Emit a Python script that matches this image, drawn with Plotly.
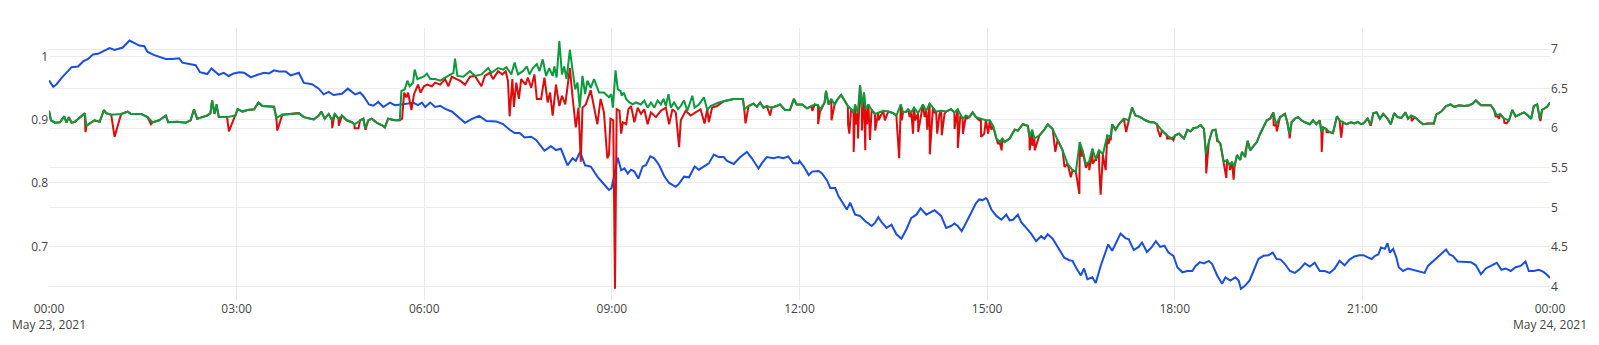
import pandas as pd
import plotly.graph_objects as go

BASE_DATE = "2021-05-23"

# ---- blue series (left axis): minutes after midnight, value ----
blue_t = [0, 4.1, 7.3, 12.1, 18.4, 21.6, 27.9, 32.7, 37.5, 42.2, 47.0, 51.8, 58.1, 62.9, 70.8, 77.2, 81.9, 86.7,
          91.4, 94.6, 101.0, 107.3, 112.0, 118.4, 124.8, 128.0, 134.3, 140.7, 144.8, 151.8, 155.9, 158.8, 162.9,
          167.6, 172.4, 177.2,
          182.5, 187.3, 193.7, 200.0, 206.4, 211.1, 215.9, 220.7, 227.0, 231.8, 239.7, 244.5, 252.4, 258.8, 263.5,
          268.3, 273.0, 281.0, 286.7, 293.7, 298.4, 301.6, 307.0, 311.1, 315.9, 320.7, 327.0, 331.8, 338.1, 344.5,
          349.2, 354.0, 357.8,
          361.0, 365.7, 370.5, 375.3, 380.0, 386.4, 392.7, 399.1, 405.4, 412.7, 419.7, 429.2, 435.6, 441.9, 446.7,
          451.5, 456.2, 462.6, 467.3, 475.3, 481.6, 486.4, 491.1, 497.5, 502.3, 505.4, 509.5, 514.3, 519.7, 526.1,
          532.4, 537.2, 539.7,
          545.7, 548.9, 552.1, 555.3, 558.4, 561.6, 565.4, 569.5, 572.7, 576.8, 580.7, 585.4, 590.2, 594.9, 601.3,
          604.5, 609.2, 614.0, 619.4, 623.5, 629.9, 633.0, 637.8, 642.6, 647.3, 650.5, 656.9, 663.2, 669.6, 674.3,
          680.7, 683.8, 688.6, 695.0, 699.7, 704.5, 709.2, 714.0, 718.8,
          720.0, 724.1, 728.9, 732.1, 738.4, 741.6, 746.4, 749.5, 754.3, 757.5, 762.2, 765.4, 768.6, 773.4, 778.1,
          782.9, 789.2, 792.4, 795.6, 798.8, 803.5, 808.3, 813.0, 817.8, 822.6, 827.3, 832.1, 836.2, 841.6, 846.4,
          849.6, 855.9, 860.7, 865.4, 868.6, 871.8, 875.6, 881.3, 886.1, 889.2, 892.4, 895.6, 898.8,
          900.0, 904.1, 908.9, 913.7, 918.4, 921.6, 924.8, 929.5, 932.7, 937.5, 942.2, 947.0, 951.8, 954.9, 958.1,
          962.9, 966.0, 970.8, 974.0, 978.8, 981.9, 985.1, 989.9, 993.0, 996.2, 1001.0, 1004.2, 1008.9, 1012.1,
          1016.2, 1020.0, 1023.2, 1028.0, 1032.7, 1035.9, 1040.7, 1045.4, 1048.6, 1053.4, 1058.1, 1061.9, 1066.0,
          1070.2, 1074.0, 1078.8,
          1082.5, 1087.3, 1092.1, 1096.8, 1100.0, 1104.1, 1108.0, 1112.7, 1115.9, 1120.7, 1125.4, 1128.6, 1133.4,
          1138.1, 1141.3, 1143.5, 1147.6, 1151.8, 1155.6, 1160.3, 1165.1, 1169.9, 1174.0, 1177.8, 1181.6, 1185.7,
          1190.5, 1195.3, 1200.0, 1204.8, 1209.6, 1214.3, 1219.1, 1223.8, 1228.6, 1233.4, 1238.1, 1242.9, 1247.7,
          1252.4, 1257.2,
          1261.0, 1265.7, 1268.9, 1272.1, 1275.3, 1277.8, 1281.6, 1284.1, 1286.4, 1289.5, 1292.7, 1294.9, 1299.1,
          1303.8, 1308.6, 1313.4, 1319.7, 1322.9, 1327.6, 1332.4, 1336.2, 1340.3, 1343.5, 1346.7, 1351.5, 1357.8,
          1364.2, 1368.9, 1373.7, 1378.4, 1383.2, 1388.9, 1393.4, 1397.5, 1402.3, 1407.0, 1411.8, 1416.5, 1419.7,
          1424.5, 1429.2, 1433.4, 1437.2, 1440.0]
blue_v = [0.962, 0.952, 0.956, 0.966, 0.977, 0.983, 0.984, 0.992, 0.996, 1.003, 1.004, 1.008, 1.013, 1.010, 1.014,
          1.025, 1.021, 1.017, 1.016, 1.007, 1.002, 0.999, 0.996, 0.996, 0.997, 0.990, 0.988, 0.986, 0.975, 0.972,
          0.981, 0.977, 0.971, 0.974, 0.969, 0.973,
          0.975, 0.974, 0.967, 0.971, 0.974, 0.973, 0.978, 0.976, 0.976, 0.970, 0.974, 0.958, 0.956, 0.949, 0.940,
          0.944, 0.939, 0.941, 0.949, 0.940, 0.943, 0.9375, 0.924, 0.922, 0.928, 0.920, 0.927, 0.923, 0.924, 0.9255,
          0.927, 0.923, 0.927,
          0.920, 0.927, 0.920, 0.922, 0.917, 0.913, 0.904, 0.895, 0.901, 0.906, 0.898, 0.897, 0.893, 0.884, 0.879,
          0.879, 0.872, 0.873, 0.868, 0.851, 0.858, 0.852, 0.854, 0.828, 0.839, 0.835, 0.849, 0.828, 0.826, 0.810,
          0.798, 0.789, 0.792,
          0.840, 0.820, 0.823, 0.815, 0.821, 0.818, 0.807, 0.826, 0.828, 0.842, 0.839, 0.828, 0.811, 0.800, 0.794,
          0.799, 0.810, 0.809, 0.826, 0.821, 0.828, 0.831, 0.845, 0.841, 0.841, 0.835, 0.830, 0.841, 0.849, 0.839,
          0.823, 0.831, 0.841, 0.839, 0.841, 0.839, 0.842, 0.831, 0.831,
          0.835, 0.826, 0.8125, 0.818, 0.819, 0.815, 0.804, 0.792, 0.792, 0.779, 0.766, 0.758, 0.769, 0.750, 0.748,
          0.740, 0.732, 0.737, 0.746, 0.738, 0.729, 0.734, 0.719, 0.712, 0.727, 0.745, 0.750, 0.760, 0.750, 0.754,
          0.757, 0.748, 0.729, 0.732, 0.736, 0.732, 0.724, 0.742, 0.758, 0.768, 0.774, 0.773, 0.776,
          0.7745, 0.758, 0.748, 0.742, 0.750, 0.741, 0.742, 0.750, 0.738, 0.729, 0.720, 0.708, 0.716, 0.712, 0.719,
          0.712, 0.703, 0.690, 0.682, 0.678, 0.677, 0.667, 0.654, 0.665, 0.648, 0.651, 0.642, 0.669, 0.685,
          0.703, 0.693, 0.703, 0.720, 0.713, 0.711, 0.694, 0.699, 0.706, 0.691, 0.699, 0.708, 0.699,
          0.701, 0.690, 0.685,
          0.667, 0.659, 0.661, 0.661, 0.669, 0.675, 0.673, 0.677, 0.672, 0.654, 0.641, 0.651, 0.646,
          0.651, 0.646, 0.633, 0.638, 0.646, 0.661, 0.680, 0.685, 0.686, 0.690, 0.680, 0.679, 0.672,
          0.661, 0.658, 0.664, 0.673, 0.668, 0.674, 0.661, 0.661, 0.658, 0.665, 0.677, 0.670, 0.679,
          0.684, 0.686,
          0.686, 0.682, 0.680, 0.685, 0.687, 0.698, 0.696, 0.705, 0.690, 0.696, 0.682, 0.667, 0.661,
          0.665, 0.663, 0.660, 0.658, 0.669, 0.676, 0.684, 0.690, 0.695, 0.687, 0.685, 0.676, 0.676,
          0.675, 0.670, 0.656, 0.665, 0.669, 0.674, 0.663, 0.665, 0.661, 0.667, 0.669, 0.676, 0.661,
          0.661, 0.663, 0.660, 0.655, 0.650]

# ---- green series (right axis) ----
green_t = [0, 1.9, 5.7, 10.5, 14.6, 16.8, 19.1, 21.6, 24.8, 34.3, 35.9, 40.6, 43.8, 48.6, 52.7, 54.9, 59.7, 69.2,
           75.6, 78.7, 88.3, 94.6, 99.4, 105.7, 112.1, 114.3, 123.2, 131.1, 135.9, 139.1, 142.2, 147.0, 151.8,
           154.9, 156.5, 158.8, 160.7, 162.9, 170.8, 178.8, 181.0,
           185.7, 190.5, 196.8, 201.0, 204.8, 215.9, 218.1, 223.8, 231.8, 239.7, 244.5, 254.0, 258.8, 261.3, 264.5,
           268.3, 271.5, 274.0, 277.8, 281.0, 285.7, 290.5, 293.0, 298.4, 301.6, 303.2, 306.4, 309.6, 314.3, 319.1,
           322.2, 325.4, 331.8, 336.5, 338.1, 341.3, 343.8, 346.0, 349.2, 350.8, 353.4, 357.2, 360.4,
           362.5, 365.7, 370.5, 375.3, 380.0, 384.8, 388.0, 389.5, 391.8, 397.5, 403.8, 408.6, 414.9, 421.3, 424.5,
           430.8, 435.6, 438.8, 443.5, 446.7, 449.9, 454.6, 458.4, 461.0, 464.2, 468.0, 470.5, 473.7, 476.9, 480.0,
           483.2, 484.8, 487.0, 489.6, 492.1, 494.3, 496.5, 499.7, 502.3, 504.8, 507.0, 509.2, 511.8, 514.3, 516.5,
           519.7, 522.9, 527.7, 532.4, 537.2, 539.4, 541.0, 543.5,
           545.7, 548.3, 549.5, 551.4, 553.7, 556.8, 560.0, 563.2, 567.9, 571.1, 574.3, 577.5, 580.7, 583.8, 587.0,
           589.5, 591.8, 594.3, 596.5, 599.7, 603.5, 606.1, 609.2, 612.4, 617.2, 619.4, 623.5, 628.3, 631.5, 634.6,
           637.8, 642.6, 647.3, 656.9, 665.7, 667.0, 671.1, 675.9, 679.1, 682.3, 685.4, 688.6, 693.4, 698.1, 701.3,
           706.1, 710.8, 714.6, 717.2,
           722.6, 727.3, 731.4, 734.6, 737.8, 740.0, 744.1, 745.4, 748.0, 750.5, 753.7, 756.8, 760.0, 763.2, 766.4,
           769.5, 771.8, 773.4, 775.9, 778.1, 779.7, 781.9, 783.5, 786.1, 789.2, 792.4, 795.6, 800.3, 805.1, 809.9,
           813.0, 817.2, 819.4, 822.6, 824.2, 827.3, 829.9, 833.7, 838.4, 841.6, 844.8, 848.0, 851.1, 855.9, 860.7,
           865.4, 868.6, 871.8, 876.5, 879.7, 882.9, 886.1, 889.2, 894.0, 898.8,
           902.6, 905.7, 908.9, 912.1, 914.6, 916.8, 921.6, 926.4, 929.5, 934.3, 939.1, 940.6, 943.2, 945.4, 950.2,
           954.9, 958.1, 962.9, 967.6, 972.4, 977.2, 981.9, 985.1, 988.9, 991.5, 994.6, 997.8, 1001.0, 1004.2,
           1007.3, 1011.1, 1015.3, 1018.4, 1020.0, 1023.2, 1026.4, 1031.1, 1035.9, 1039.1, 1042.2, 1047.0, 1051.8,
           1056.5, 1059.7, 1062.9, 1067.7, 1072.4, 1077.2, 1080.4,
           1084.1, 1088.9, 1092.1, 1095.3, 1097.8, 1101.6, 1104.8, 1108.0, 1109.9, 1112.7, 1115.9, 1119.1, 1121.3,
           1123.8, 1127.0, 1130.2, 1132.7, 1134.9, 1137.2, 1139.7, 1142.9, 1144.5, 1147.6, 1149.9, 1152.4, 1156.2,
           1158.8, 1161.9, 1165.1, 1168.3, 1171.5, 1174.6, 1177.2, 1181.0, 1185.7, 1188.0, 1189.9, 1192.1, 1195.3,
           1198.4, 1201.6, 1204.8, 1209.6, 1212.7, 1215.9, 1219.1, 1220.7, 1222.2, 1225.4, 1228.6, 1231.8, 1235.6,
           1238.1, 1241.3, 1244.5, 1249.2, 1252.4, 1255.6, 1258.8,
           1261.0, 1265.1, 1268.3, 1270.5, 1273.7, 1276.8, 1280.0, 1284.1, 1287.3, 1290.5, 1293.7, 1297.5, 1301.3,
           1303.8, 1307.0, 1310.2, 1313.4, 1318.1, 1322.9, 1328.6, 1330.8, 1335.6, 1340.3, 1344.5, 1348.3, 1353.0,
           1357.8, 1362.6, 1365.7, 1368.9, 1373.7, 1378.4, 1383.2, 1386.4, 1388.9, 1392.1, 1395.9, 1400.7, 1403.8,
           1407.0, 1410.2, 1415.0, 1418.1, 1421.9, 1424.5, 1427.7, 1430.2, 1432.4, 1437.2, 1440.0]
green_v = [6.22, 6.10, 6.07, 6.075, 6.15, 6.07, 6.14, 6.07, 6.08, 6.19, 6.03, 6.075, 6.10, 6.08, 6.23, 6.19, 6.17, 6.18,
           6.21, 6.18, 6.18, 6.14, 6.075, 6.10, 6.16, 6.075, 6.08, 6.07, 6.10, 6.24, 6.12, 6.14, 6.16,
           6.19, 6.35, 6.18, 6.30, 6.14, 6.14, 6.16, 6.24,
           6.21, 6.23, 6.24, 6.325, 6.28, 6.27, 6.13, 6.17, 6.18, 6.19, 6.14, 6.11, 6.16, 6.21, 6.12,
           6.18, 6.10, 6.18, 6.12, 6.16, 6.10, 6.075, 6.05, 6.10, 6.12, 6.00, 6.10, 6.12, 6.07, 6.04,
           6.01, 6.12, 6.10, 6.10, 6.47, 6.49, 6.60, 6.53, 6.575, 6.74, 6.62, 6.64, 6.66,
           6.69, 6.62, 6.62, 6.60, 6.64, 6.68, 6.70, 6.88, 6.66, 6.65, 6.72, 6.66, 6.68, 6.76, 6.70,
           6.76, 6.74, 6.77, 6.68, 6.83, 6.68, 6.72, 6.78, 6.68, 6.76, 6.81, 6.72, 6.87, 6.66, 6.76,
           6.66, 6.78, 6.64, 7.10, 6.68, 6.78, 6.62, 6.99, 6.72, 6.49, 6.575, 6.26, 6.66, 6.43, 6.60,
           6.51, 6.62, 6.45, 6.45, 6.39, 6.43, 6.26, 6.73,
           6.49, 6.47, 6.41, 6.45, 6.37, 6.325, 6.30, 6.325, 6.30, 6.35, 6.26, 6.325, 6.26, 6.35, 6.30,
           6.37, 6.28, 6.43, 6.26, 6.325, 6.24, 6.28, 6.35, 6.22, 6.41, 6.26, 6.30, 6.39, 6.23, 6.28,
           6.30, 6.325, 6.34, 6.37, 6.37, 6.24, 6.28, 6.31, 6.27, 6.325, 6.26, 6.28, 6.26, 6.28, 6.30,
           6.23, 6.23, 6.37, 6.30,
           6.30, 6.25, 6.28, 6.30, 6.29, 6.24, 6.325, 6.47, 6.30, 6.37, 6.30, 6.37, 6.42, 6.35, 6.28,
           6.24, 6.20, 6.30, 6.19, 6.54, 6.26, 6.45, 6.24, 6.30, 6.23, 6.18, 6.20, 6.22, 6.21, 6.19,
           6.16, 6.30, 6.20, 6.21, 6.24, 6.20, 6.26, 6.19, 6.30, 6.22, 6.31, 6.26, 6.21, 6.22, 6.21,
           6.24, 6.20, 6.24, 6.12, 6.16, 6.14, 6.20, 6.14, 6.12, 6.10,
           6.10, 6.03, 5.87, 5.825, 5.87, 5.825, 5.87, 5.98, 5.97, 6.05, 6.03, 5.89, 5.98, 5.87, 5.91,
           5.98, 6.05, 5.99, 5.85, 5.72, 5.55, 5.47, 5.45, 5.825, 5.72, 5.55, 5.575, 5.74, 5.61,
           5.72, 5.67, 5.91, 5.89, 6.05, 5.98, 6.05, 6.12, 6.10, 6.26, 6.16, 6.14, 6.10,
           6.075, 6.075, 6.05, 5.97, 5.91, 5.87, 5.91,
           5.93, 5.87, 5.98, 5.96, 6.00, 6.01, 6.04, 5.99, 5.68, 5.825, 5.97, 5.98, 5.845,
           5.80, 5.575, 5.60, 5.53, 5.575, 5.51, 5.66, 5.60, 5.70, 5.635, 5.84, 5.72, 5.79,
           5.825, 5.93, 6.01, 6.10, 6.12, 6.20, 6.05, 6.14, 6.18, 6.075, 5.93, 6.075, 6.12,
           6.14, 6.10, 6.075, 6.05, 6.10, 6.05, 6.10, 5.95, 6.01, 5.99, 5.95, 5.94, 6.15,
           6.10, 6.075, 6.05, 6.075, 6.06, 6.08, 6.05,
           6.06, 6.12, 6.05, 6.19, 6.20, 6.12, 6.18, 6.12, 6.05, 6.19, 6.14, 6.13, 6.20,
           6.12, 6.16, 6.14, 6.10, 6.05, 6.06, 6.06, 6.17, 6.21, 6.28, 6.30, 6.27, 6.29,
           6.28, 6.29, 6.31, 6.35, 6.29, 6.29, 6.29, 6.23, 6.16, 6.18, 6.12, 6.10, 6.23,
           6.15, 6.17, 6.20, 6.17, 6.12, 6.28, 6.30, 6.12, 6.23, 6.27, 6.325]

# ---- red series (right axis): where red departs from green ----
# between red_own_start and red_own_end the red line is read on its own;
# elsewhere it runs under the green line except for the dips listed.
red_own_start, red_own_end = 337.0, 646.0
red_t = [35.0, 62.9, 97.8, 172.6, 219.0, 271.7, 278.0, 293.2, 297.0, 303.6,
         338.8, 340.7, 342.9, 344.5, 347.7, 350.2, 354.0, 356.5, 359.7, 362.9,
         367.3, 370.5, 375.3, 380.0, 383.2, 386.4, 391.1, 394.3, 399.1, 403.8, 408.6, 414.9, 418.1, 422.9,
         426.0, 430.8, 434.9, 438.1, 440.3, 441.9, 444.5, 446.0, 448.3, 450.8, 453.0, 457.2, 459.4, 462.6,
         465.7, 468.0, 472.1, 475.3, 478.4, 480.7, 483.2, 486.4, 489.6, 492.1, 495.3, 497.5, 499.7, 502.3,
         505.4, 508.0, 510.2, 511.8, 515.0, 519.7, 522.9, 526.1, 529.2, 532.4, 535.6, 537.2, 538.6, 541.3,
         543.0, 544.6, 547.3, 548.9, 550.5, 553.7, 555.9, 558.4, 561.6, 564.8, 567.9, 571.1, 574.3, 577.5,
         582.2, 587.0, 591.8, 594.9, 598.1, 601.3, 604.5, 606.1, 610.8, 615.6, 620.3, 625.1, 628.9, 631.5,
         633.0, 636.2, 641.0, 645.7,
         668.2, 691.8,
         732.3, 737.9, 740.2, 750.7, 766.6, 767.8, 772.0, 774.2, 776.1, 779.9, 783.1, 784.7, 787.6, 792.6,
         795.8, 801.9, 813.2, 815.6, 818.0, 825.7, 828.9, 831.1, 833.9, 840.0, 842.6, 845.0, 847.2, 849.8,
         852.1, 854.3, 856.5, 859.1, 868.8, 871.9, 874.3, 876.8, 879.9, 892.6, 894.2,
         897.2, 901.0, 904.1, 910.5, 913.9, 940.8, 943.4, 945.6, 965.4, 974.2, 980.3, 988.5, 990.8, 994.8,
         998.0, 1001.2, 1004.4, 1007.5, 1008.9, 1011.3, 1013.7, 1016.4, 1018.6, 1033.4, 1063.8, 1066.1,
         1072.6, 1078.7,
         1110.2, 1120.9, 1129.5, 1133.0, 1136.5, 1147.9, 1174.9, 1177.9, 1190.2, 1221.0, 1225.7, 1239.7,
         1268.0, 1307.3, 1388.0, 1391.1, 1396.2, 1398.4, 1421.3, 1430.8]
red_v = [5.95, 5.89, 6.05, 5.96, 5.97, 6.00, 6.03, 6.00, 6.00, 5.98,
         6.12, 6.45, 6.39, 6.45, 6.23, 6.43, 6.55, 6.45, 6.53, 6.55,
         6.53, 6.575, 6.55, 6.62, 6.53, 6.65, 6.62, 6.60, 6.55, 6.65, 6.66, 6.53, 6.66, 6.70,
         6.62, 6.72, 6.68, 6.72, 6.60, 6.15, 6.62, 6.27, 6.575, 6.37, 6.62, 6.55, 6.64, 6.51,
         6.68, 6.37, 6.37, 6.64, 6.325, 6.45, 6.16, 6.55, 6.28, 6.41, 6.30, 6.51, 6.76, 6.39,
         6.01, 6.26, 5.575, 6.26, 6.30, 6.48, 6.26, 6.05, 6.37, 6.20, 5.62, 5.66, 6.12, 6.10,
         3.97, 6.24, 6.22, 5.93, 6.075, 6.05, 6.24, 6.28, 6.075, 6.26, 6.18, 6.24, 6.05, 6.20,
         6.14, 6.22, 6.26, 6.05, 6.24, 6.20, 5.76, 6.10, 6.22, 6.16, 6.20, 6.24, 6.06, 6.24,
         6.075, 6.26, 6.28, 6.325,
         6.06, 6.16,
         6.22, 6.05, 6.22, 6.10, 6.05, 5.93, 5.70, 6.05, 5.87, 5.97, 5.72, 6.05, 5.85, 5.97,
         6.10, 6.10, 6.10, 5.62, 6.10, 6.14, 5.93, 6.10, 5.95, 6.14, 5.98, 5.67, 6.10, 6.19,
         5.93, 6.18, 5.91, 6.18, 5.99, 5.75, 6.16, 5.93, 6.12, 6.10, 5.89,
         5.93, 5.93, 5.98, 5.80, 5.72, 5.72, 5.78, 5.72, 5.70, 5.51, 5.38, 5.17, 5.64, 5.50,
         5.47, 5.55, 5.59, 5.51, 5.16, 5.64, 5.47, 5.80, 5.85, 5.95, 5.98, 5.89,
         5.87, 5.85,
         5.43, 5.825, 5.37, 5.47, 5.35, 5.71, 6.03, 5.96, 5.87, 5.70, 5.95, 5.88,
         6.03, 6.09, 6.14, 6.12, 6.07, 6.06, 6.12, 6.09]

# combine: red = green outside its own window, plus its own points and dips
red_pts = [(t, v) for t, v in zip(green_t, green_v) if not (red_own_start <= t <= red_own_end)]
red_pts += list(zip(red_t, red_v))
red_pts.sort()

base = pd.Timestamp(BASE_DATE)


def to_time(mins):
    return [base + pd.Timedelta(minutes=m) for m in mins]


fig = go.Figure()
fig.add_trace(go.Scatter(x=to_time(blue_t), y=blue_v, mode="lines", yaxis="y",
                         line=dict(color="#1a4ee0", width=2), name="blue"))
fig.add_trace(go.Scatter(x=to_time([p[0] for p in red_pts]), y=[p[1] for p in red_pts], mode="lines",
                         yaxis="y2", line=dict(color="#e00b0b", width=2), name="red"))
fig.add_trace(go.Scatter(x=to_time(green_t), y=green_v, mode="lines", yaxis="y2",
                         line=dict(color="#0a9b3c", width=2), name="green"))

grid = "#ebebeb"
fig.update_layout(
    width=1599, height=345,
    margin=dict(l=44, r=43, t=28, b=42),
    paper_bgcolor="white", plot_bgcolor="white",
    showlegend=False,
    font=dict(family="Open Sans, sans-serif", size=12, color="#444"),
    xaxis=dict(type="date", range=[base, base + pd.Timedelta(days=1)],
               dtick=3 * 3600 * 1000, tick0=base, showgrid=True, gridcolor=grid,
               zeroline=False, showline=False, ticks=""),
    yaxis=dict(range=[0.6152, 1.0448], dtick=0.1, tick0=0, showgrid=True, gridcolor=grid,
               zeroline=False, showline=False, ticks=""),
    yaxis2=dict(range=[3.829, 7.266], dtick=0.5, tick0=0, overlaying="y", side="right",
                showgrid=True, gridcolor=grid, zeroline=False, showline=False, ticks=""),
)

fig.write_html("out.html")
